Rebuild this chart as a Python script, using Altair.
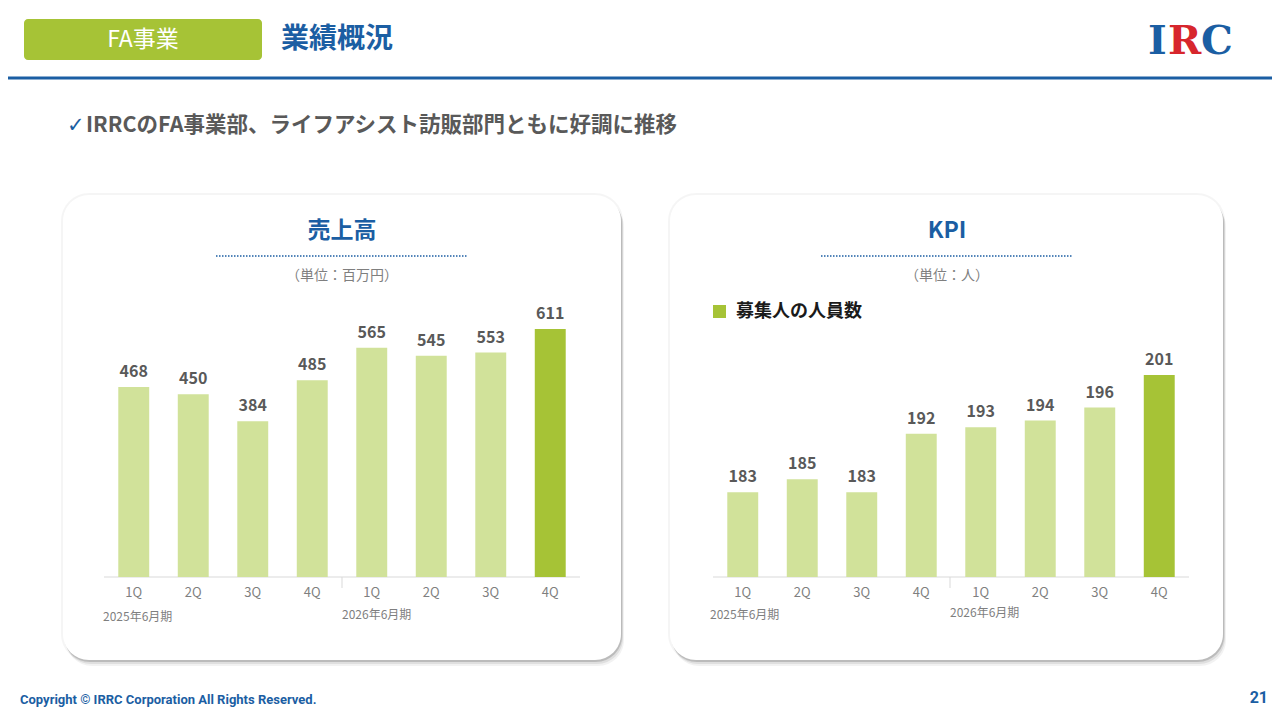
import altair as alt
import pandas as pd

# data
keys = ["25-1Q", "25-2Q", "25-3Q", "25-4Q", "26-1Q", "26-2Q", "26-3Q", "26-4Q"]
quarters = ["1Q", "2Q", "3Q", "4Q", "1Q", "2Q", "3Q", "4Q"]
periods = ["2025年6月期", "2026年6月期"]
sales = [468, 450, 384, 485, 565, 545, 553, 611]
staff = [183, 185, 183, 192, 193, 194, 196, 201]

FONT = "Noto Sans CJK JP"
BLUE = "#1b5ea3"
LIGHT = "#d1e29a"
DARK = "#a6c336"
GREY = "#7f7f7f"
OFF = 8  # page margin, coordinates below are page pixels

df = pd.DataFrame({"key": keys, "q": quarters, "sales": sales, "staff": staff})
df["latest"] = df.index == len(df) - 1
dummy = pd.DataFrame({"a": [0]})


def px(v):
    return alt.value(v - OFF)


def txt(s, x, y, size, color, weight="normal", align="left", font=FONT):
    return alt.Chart(dummy).mark_text(
        text=s, fontSize=size, color=color, fontWeight=weight,
        align=align, baseline="middle", font=font
    ).encode(x=px(x), y=px(y))


def box(x0, x1, y0, y1, color, radius=0, opacity=1.0):
    return alt.Chart(dummy).mark_rect(
        color=color, cornerRadius=radius, opacity=opacity
    ).encode(x=px(x0), x2=px(x1), y=px(y0), y2=px(y1))


def rule(x0, x1, y0, y1, color, width=1, dash=None):
    kw = {"color": color, "strokeWidth": width}
    if dash:
        kw["strokeDash"] = dash
    return alt.Chart(dummy).mark_rule(**kw).encode(
        x=px(x0), x2=px(x1), y=px(y0), y2=px(y1))


def panel(x0, x1, y0, y1):
    layers = [box(x0 - 2, x1 + 2, y0 - 2, y1 + 2, "#000000", 28, 0.04)]
    for d, op in [(6, 0.05), (4, 0.08), (2, 0.12)]:
        layers.append(box(x0 + d / 2, x1 + d / 2, y0 + d, y1 + d, "#000000", 26, op))
    layers.append(box(x0, x1, y0, y1, "#ffffff", 26))
    return layers


def bars(field, x0, x1, dom, top, base=None):
    xs = alt.X("key:N", sort=keys, axis=None,
               scale=alt.Scale(range=[x0 - OFF, x1 - OFF], paddingInner=0.48, paddingOuter=0.24))
    ys = alt.Y(f"{field}:Q", axis=None,
               scale=alt.Scale(domain=dom, range=[577 - OFF, top - OFF], nice=False, zero=False))
    enc = {"x": xs, "y": ys}
    if base is not None:
        enc["y2"] = alt.datum(base)
    b = alt.Chart(df).mark_bar().encode(
        color=alt.condition("datum.latest", alt.value(DARK), alt.value(LIGHT)), **enc)
    lab = alt.Chart(df).mark_text(
        baseline="bottom", dy=-7, fontSize=16, fontWeight="bold", color="#595959", font=FONT
    ).encode(x=xs, y=ys, text=f"{field}:Q")
    ql = alt.Chart(df).mark_text(
        baseline="middle", fontSize=13, color=GREY, font=FONT
    ).encode(x=xs, y=px(593), text="q:N")
    return alt.layer(b, lab, ql)


layers = []
# header
layers.append(box(24, 262, 19, 60, DARK, 4))
layers.append(txt("FA事業", 143, 40, 23, "#ffffff", align="center"))
layers.append(txt("業績概況", 281, 40, 28, BLUE, weight="bold"))
layers.append(box(OFF, 1272, 76.5, 79.5, BLUE))
layers.append(txt("I", 1148, 42, 40, BLUE, weight="bold", font="DejaVu Serif"))
layers.append(txt("R", 1168, 42, 40, "#d7262d", weight="bold", font="DejaVu Serif"))
layers.append(txt("C", 1201, 42, 40, BLUE, weight="bold", font="DejaVu Serif"))
layers.append(txt("✓", 67, 126, 21, BLUE, font="DejaVu Sans"))
layers.append(txt("IRRCのFA事業部、ライフアシスト訪販部門ともに好調に推移", 86, 126, 21.5, "#595959", weight="bold"))

# panels
layers += panel(63, 621, 195, 660)
layers += panel(670, 1223, 195, 660)

# left panel decoration
layers.append(txt("売上高", 342, 231, 23, BLUE, weight="bold", align="center"))
layers.append(rule(216, 468, 256, 256, BLUE, 1.5, [1.5, 1.5]))
layers.append(txt("（単位：百万円）", 342, 276, 14, GREY, align="center"))
layers.append(rule(104, 580, 577, 577, "#d9d9d9", 1))
layers.append(rule(342, 342, 577, 588, "#d9d9d9", 1))
layers.append(txt(periods[0], 103, 617, 12, GREY))
layers.append(txt(periods[1], 342, 615, 12, GREY))

# right panel decoration
layers.append(txt("KPI", 947, 231, 23, BLUE, weight="bold", align="center"))
layers.append(rule(821, 1073, 256, 256, BLUE, 1.5, [1.5, 1.5]))
layers.append(txt("（単位：人）", 947, 276, 14, GREY, align="center"))
layers.append(box(713, 726, 305, 318, DARK))
layers.append(txt("募集人の人員数", 736, 312, 18, "#1a1a1a", weight="bold"))
layers.append(rule(713, 1189, 577, 577, "#d9d9d9", 1))
layers.append(rule(950, 950, 577, 588, "#d9d9d9", 1))
layers.append(txt(periods[0], 710, 615, 12, GREY))
layers.append(txt(periods[1], 950, 613, 12, GREY))

# footer
layers.append(txt("Copyright © IRRC Corporation All Rights Reserved.", 20, 700, 13, BLUE,
                  weight="bold", font="Liberation Sans Narrow, Roboto, sans-serif"))
layers.append(txt("21", 1268, 698, 16, BLUE, weight="bold", align="right", font="Roboto"))

left = bars("sales", 104, 580, [0, 611], 329)
right = bars("staff", 713, 1189, [170, 201], 375, base=170)

chart = alt.layer(*layers, left, right).resolve_scale(
    x="independent", y="independent"
).properties(
    width=1264, height=704, padding=0, autosize="none", background="#ffffff"
).configure_view(stroke=None)

chart.save("out.html", embed_options={"renderer": "svg", "actions": False})
